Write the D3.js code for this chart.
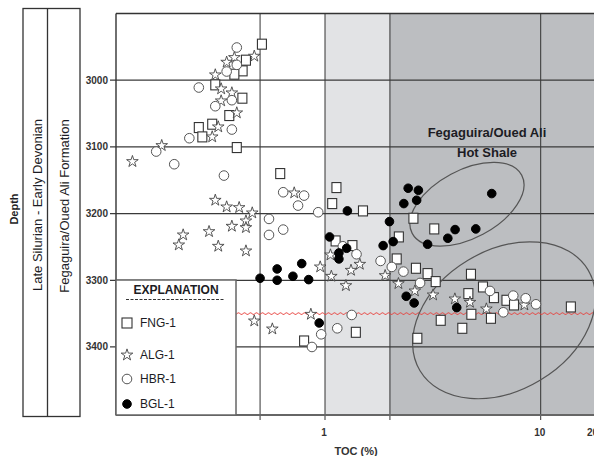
<!DOCTYPE html>
<meta charset="utf-8">
<style>
body { margin: 0; background: #fff; }
svg { display: block; font-family: "Liberation Sans", Arial, sans-serif; }
.grid line { stroke: #333; stroke-width: 1px; }
.tick-label { font-size: 10px; font-weight: bold; fill: #333; }
</style>
<svg width="594" height="456"></svg>
<script src="https://d3js.org/d3.v7.min.js"></script>
<script>

// TOC (%) and depth (m)
var fng = [[0.51,2946],[0.43,2970],[0.415,2986],[0.38,2991],[0.31,3007],[0.414,3027],[0.36,3053],
  [0.26,3071],[0.30,3066],[0.27,3085],[0.39,3101],[0.62,3140],[1.13,3161],[1.08,3185],[1.50,3196],
  [2.57,3207],[3.21,3223],[2.20,3235],[1.12,3241],[1.34,3248],[2.15,3268],[2.64,3282],[2.99,3290],
  [3.26,3302],[4.75,3291],[5.40,3310],[4.62,3320],[6.07,3326],[6.94,3330],[7.52,3337],[4.77,3351],
  [5.88,3357],[3.44,3360],[4.33,3372],[2.68,3387],[1.39,3378],[0.80,3391],[13.8,3340]];

var alg = [[0.47,2964],[0.38,2966],[0.35,2973],[0.31,2992],[0.33,3013],[0.37,3019],[0.33,3031],
  [0.39,3049],[0.32,3070],[0.30,3085],[0.175,3098],[0.128,3122],[0.31,3180],[0.35,3190],[0.40,3191],
  [0.46,3199],[0.43,3211],[0.37,3219],[0.43,3221],[0.29,3227],[0.22,3232],[0.21,3247],[0.32,3249],
  [0.43,3256],[0.72,3169],[0.95,3280],[1.06,3262],[1.07,3294],[1.32,3285],[1.45,3276],[1.25,3308],
  [1.90,3293],[2.19,3305],[2.61,3316],[3.17,3322],[4.0,3328],[4.70,3333],[5.60,3343],[8.40,3337],
  [0.86,3351],[0.47,3361],[0.57,3373]];

var hbr = [[0.39,2951],[0.39,2977],[0.35,2987],[0.26,3011],[0.37,3030],[0.31,3039],[0.37,3074],
  [0.235,3087],[0.165,3107],[0.20,3126],[0.34,3143],[0.64,3168],[0.80,3173],[0.75,3188],[0.93,3198],
  [0.55,3208],[0.64,3224],[0.55,3232],[1.21,3249],[1.40,3261],[1.81,3271],[2.04,3280],[2.31,3287],
  [2.76,3304],[5.82,3316],[7.46,3323],[8.52,3327],[9.51,3336],[6.71,3348],[1.33,3352],[1.14,3372],
  [0.96,3381],[0.87,3400]];

var bgl = [[2.43,3162],[2.71,3165],[2.32,3185],[2.66,3180],[5.93,3170],[1.27,3196],[1.99,3212],
  [4.01,3224],[3.71,3237],[5.0,3223],[2.99,3246],[1.05,3235],[2.07,3242],[1.86,3248],[1.26,3252],
  [1.16,3259],[1.16,3268],[0.78,3275],[0.71,3294],[0.84,3299],[0.60,3283],[0.60,3300],[0.50,3297],
  [2.38,3324],[2.59,3334],[4.08,3341],[0.94,3364]];

var depthTicks = [3000, 3100, 3200, 3300, 3400];
var tocGrid = [0.5, 1, 2, 10];
var tocTicks = [1, 10, 20];
var unconformityDepth = 3350;

// ellipses: centre in data units, radii in px
var ellipses = [
  {toc: 4.55, depth: 3186, rx: 62, ry: 34, angle: -28},
  {toc: 6.76, depth: 3360, rx: 98, ry: 70, angle: -31}
];

var svg = d3.select("svg"),
    plotLeft = 116, plotRight = 594, plotTop = 13.5, plotBottom = 415;

var x = d3.scaleLog().domain([1, 10]).range([325, 540.7]),
    y = d3.scaleLinear().domain([2900, 3502]).range([plotTop, plotBottom]);

// shaded TOC zones
svg.append("rect")
    .attr("x", x(1)).attr("y", plotTop)
    .attr("width", x(2) - x(1)).attr("height", plotBottom - plotTop)
    .attr("fill", "#e2e3e5");
svg.append("rect")
    .attr("x", x(2)).attr("y", plotTop)
    .attr("width", plotRight - x(2)).attr("height", plotBottom - plotTop)
    .attr("fill", "#bcbec1");

// grid
var grid = svg.append("g").attr("class", "grid");
grid.selectAll(".v").data(tocGrid).enter().append("line")
    .attr("x1", function(d) { return x(d); }).attr("x2", function(d) { return x(d); })
    .attr("y1", plotTop).attr("y2", plotBottom + 5);
grid.selectAll(".h").data(depthTicks).enter().append("line")
    .attr("x1", plotLeft - 6).attr("x2", plotRight)
    .attr("y1", function(d) { return y(d); }).attr("y2", function(d) { return y(d); })
    .style("stroke", "#3a3a3a").style("stroke-width", "1.2px");

// frame
svg.append("line").attr("x1", plotLeft).attr("x2", plotRight).attr("y1", plotTop).attr("y2", plotTop)
    .attr("stroke", "#333").attr("stroke-width", 1.4);
svg.append("line").attr("x1", plotLeft).attr("x2", plotLeft).attr("y1", plotTop).attr("y2", plotBottom)
    .attr("stroke", "#333").attr("stroke-width", 1.4);
svg.append("line").attr("x1", plotLeft).attr("x2", plotRight).attr("y1", plotBottom).attr("y2", plotBottom)
    .attr("stroke", "#666").attr("stroke-width", 2);

// depth labels
svg.selectAll(".ylab").data(depthTicks).enter().append("text")
    .attr("class", "tick-label")
    .attr("x", 108).attr("y", function(d) { return y(d); })
    .attr("dy", "0.35em").attr("text-anchor", "end")
    .text(function(d) { return d; });

// TOC labels
svg.selectAll(".xlab").data(tocTicks).enter().append("text")
    .attr("class", "tick-label")
    .attr("x", function(d) { return x(d); }).attr("y", 432)
    .attr("dx", function(d) { return d === 20 ? -13 : -1; })
    .attr("dy", "0.35em").attr("text-anchor", "middle")
    .text(function(d) { return d; });

svg.append("text").attr("x", 356).attr("y", 451).attr("dy", "0.35em")
    .attr("text-anchor", "middle").style("font-size", "11px").style("font-weight", "bold")
    .attr("fill", "#333").text("TOC (%)");

// unconformity (wavy red line)
var wave = d3.range(236, plotRight + 1, 1).map(function(px) {
  return [px, y(unconformityDepth) + Math.sin(px * Math.PI / 3) * 0.9];
});
svg.append("path").attr("d", d3.line()(wave))
    .attr("fill", "none").attr("stroke", "#e8413c").attr("stroke-width", 0.9);

// ellipses
svg.selectAll(".ell").data(ellipses).enter().append("ellipse")
    .attr("transform", function(d) {
      return "translate(" + x(d.toc) + "," + y(d.depth) + ") rotate(" + d.angle + ")";
    })
    .attr("rx", function(d) { return d.rx; }).attr("ry", function(d) { return d.ry; })
    .attr("fill", "none").attr("stroke", "#555").attr("stroke-width", 1.2);

svg.append("text").attr("x", 487).attr("y", 132).attr("dy", "0.35em")
    .attr("text-anchor", "middle").style("font-size", "13px").style("font-weight", "bold")
    .attr("fill", "#1c1c24").text("Fegaguira/Oued Ali");
svg.append("text").attr("x", 487).attr("y", 152).attr("dy", "0.35em")
    .attr("text-anchor", "middle").style("font-size", "13px").style("font-weight", "bold")
    .attr("fill", "#1c1c24").text("Hot Shale");

// markers
var star = d3.symbol().type(d3.symbolStar).size(42);

function drawSquares(g, data) {
  g.selectAll("rect").data(data).enter().append("rect")
      .attr("x", function(d) { return x(d[0]) - 4.5; })
      .attr("y", function(d) { return y(d[1]) - 5; })
      .attr("width", 9).attr("height", 10)
      .attr("fill", "#fff").attr("stroke", "#333").attr("stroke-width", 1.1);
}
function drawStars(g, data) {
  g.selectAll("path").data(data).enter().append("path")
      .attr("d", star)
      .attr("transform", function(d) { return "translate(" + x(d[0]) + "," + y(d[1]) + ")"; })
      .attr("fill", "#fff").attr("stroke", "#444").attr("stroke-width", 0.9);
}
function drawCircles(g, data, filled) {
  g.selectAll("circle").data(data).enter().append("circle")
      .attr("cx", function(d) { return x(d[0]); })
      .attr("cy", function(d) { return y(d[1]); })
      .attr("r", filled ? 4.3 : 4.8)
      .attr("fill", filled ? "#000" : "#fff")
      .attr("stroke", filled ? "#000" : "#555").attr("stroke-width", 1);
}

var plot = svg.append("g");
drawSquares(plot.append("g"), fng);
drawStars(plot.append("g"), alg);
drawCircles(plot.append("g"), hbr, false);
drawCircles(plot.append("g"), bgl, true);

// legend
var legend = svg.append("g");
legend.append("rect").attr("x", plotLeft).attr("y", 280).attr("width", 120).attr("height", plotBottom - 280)
    .attr("fill", "#fff").attr("stroke", "#666").attr("stroke-width", 1.5);
legend.append("text").attr("x", 176).attr("y", 290).attr("dy", "0.35em")
    .attr("text-anchor", "middle").style("font-size", "12px").style("font-weight", "bold")
    .attr("fill", "#1c1c24").text("EXPLANATION");
legend.append("line").attr("x1", 126).attr("x2", 224).attr("y1", 299.5).attr("y2", 299.5)
    .attr("stroke", "#333").attr("stroke-dasharray", "3,1.5");

var legendItems = [
  {name: "FNG-1", y: 323, kind: "square"},
  {name: "ALG-1", y: 355, kind: "star"},
  {name: "HBR-1", y: 379, kind: "circle"},
  {name: "BGL-1", y: 404, kind: "dot"}
];
legendItems.forEach(function(item) {
  if (item.kind === "square") {
    legend.append("rect").attr("x", 122).attr("y", item.y - 5).attr("width", 10).attr("height", 10)
        .attr("fill", "#fff").attr("stroke", "#333").attr("stroke-width", 1.1);
  } else if (item.kind === "star") {
    legend.append("path").attr("d", star).attr("transform", "translate(127," + item.y + ")")
        .attr("fill", "#fff").attr("stroke", "#444").attr("stroke-width", 0.9);
  } else {
    legend.append("circle").attr("cx", 127).attr("cy", item.y).attr("r", item.kind === "dot" ? 4.3 : 4.8)
        .attr("fill", item.kind === "dot" ? "#000" : "#fff")
        .attr("stroke", item.kind === "dot" ? "#000" : "#555");
  }
  legend.append("text").attr("x", 140).attr("y", item.y).attr("dy", "0.35em")
      .style("font-size", "12px").attr("fill", "#1c1c24").text(item.name);
});

// stratigraphic columns
var col = svg.append("g").attr("fill", "none").attr("stroke", "#333").attr("stroke-width", 1.3);
col.append("rect").attr("x", 23).attr("y", 8.5).attr("width", 57).attr("height", 408);
col.append("line").attr("x1", 47.5).attr("x2", 47.5).attr("y1", 8.5).attr("y2", 416.5);

svg.append("text").attr("transform", "translate(37,205) rotate(-90)").attr("dy", "0.35em")
    .attr("text-anchor", "middle").style("font-size", "13px").attr("fill", "#1c1c24")
    .text("Late Silurian - Early Devonian");
svg.append("text").attr("transform", "translate(64,206) rotate(-90)").attr("dy", "0.35em")
    .attr("text-anchor", "middle").style("font-size", "13px").attr("fill", "#1c1c24")
    .text("Fegaguira/Oued Ali Formation");
svg.append("text").attr("transform", "translate(14,209) rotate(-90)").attr("dy", "0.35em")
    .attr("text-anchor", "middle").style("font-size", "11px").style("font-weight", "bold")
    .attr("fill", "#1c1c24").text("Depth");

</script>
